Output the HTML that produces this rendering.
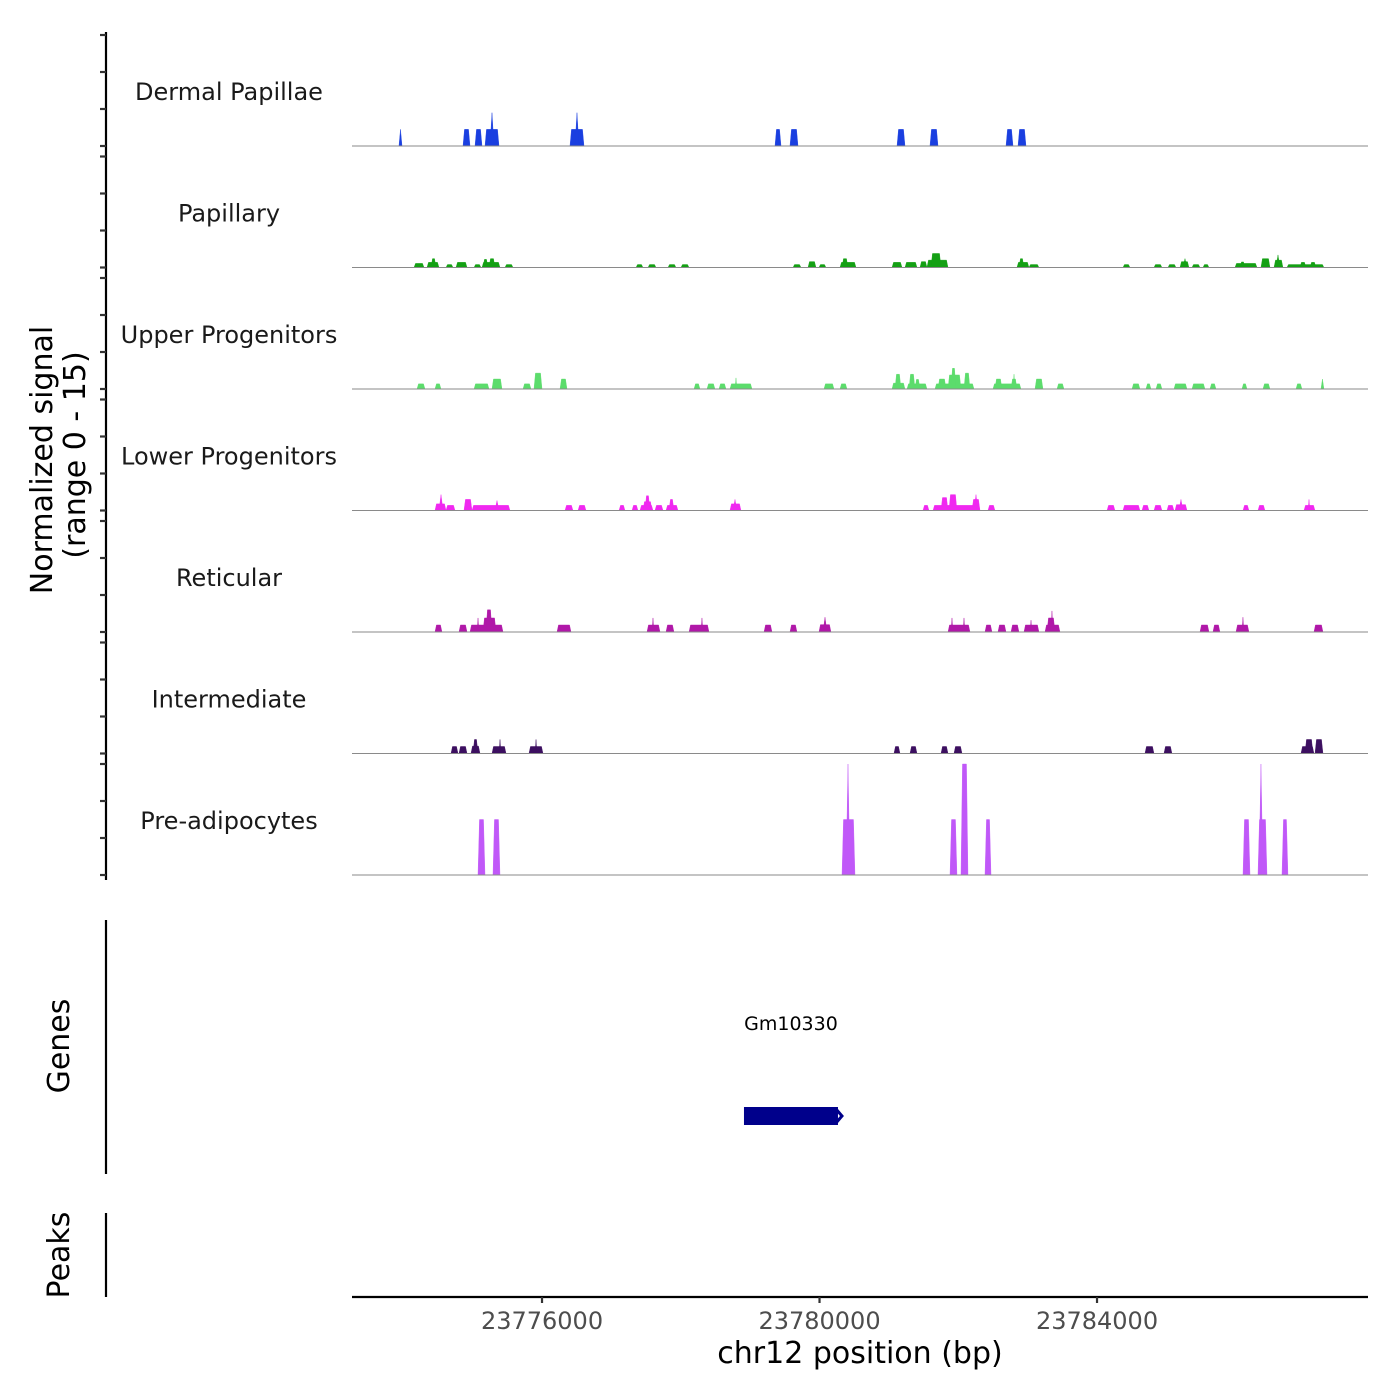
<!DOCTYPE html>
<html><head><meta charset="utf-8"><style>
html,body{margin:0;padding:0;background:#fff;}
svg{display:block;font-family:"DejaVu Sans","Liberation Sans",sans-serif;}
</style></head><body>
<svg id="chart" width="1400" height="1400" viewBox="0 0 1400 1400">
<g id="tracks"></g>
<g id="leftaxis"></g>
<text x="52" y="460" font-size="30" fill="#000" text-anchor="middle" transform="rotate(-90 52 460)">Normalized signal</text>
<text x="85" y="455" font-size="30" fill="#000" text-anchor="middle" transform="rotate(-90 85 455)">(range 0 - 15)</text>
<line x1="106" y1="920" x2="106" y2="1174" stroke="#000" stroke-width="2.2"/>
<text x="69" y="1046" font-size="30" fill="#000" text-anchor="middle" transform="rotate(-90 69 1046)">Genes</text>
<line x1="106" y1="1213" x2="106" y2="1297" stroke="#000" stroke-width="2.2"/>
<text x="69" y="1255" font-size="30" fill="#000" text-anchor="middle" transform="rotate(-90 69 1255)">Peaks</text>
<g id="genes"></g>
<g id="xaxis"></g>
<text x="860" y="1363" font-size="30" fill="#000" text-anchor="middle">chr12 position (bp)</text>
</svg>
<script>
// ---- data ----
const regionStart = 23773261;
const regionEnd = 23787906;
const trackNames = ["Dermal Papillae","Papillary","Upper Progenitors","Lower Progenitors","Reticular","Intermediate","Pre-adipocytes"];
const trackColors = ["#1a3fe0","#14a014","#5cdc6c","#f028f0","#b018a8","#3c0f60","#c058f8"];
const yTicks = [0,5,10,15];
const xTicks = [23776000,23780000,23784000];
const xTickLabels = ["23776000","23780000","23784000"];
// segments: [startOffsetBp, endOffsetBp, value] relative to regionStart
const dermalPapillae = [[677,721,2.25],[1600,1701,2.25],[1773,1874,2.25],[1917,2119,2.25],[1989,2047,4.5],[3142,3344,2.25],[3214,3272,4.5],[6097,6184,2.25],[6313,6429,2.25],[7856,7971,2.25],[8331,8447,2.25],[9427,9528,2.25],[9600,9715,2.25]];
const papillary = [[894,1038,0.55],[1081,1254,0.7],[1139,1211,1.2],[1355,1456,0.4],[1499,1658,0.7],[1759,1859,0.4],[1874,2133,0.7],[1888,1960,1.1],[1975,2061,1.2],[2205,2321,0.4],[4094,4194,0.4],[4267,4382,0.4],[4555,4670,0.4],[4742,4858,0.4],[6357,6472,0.4],[6573,6688,0.8],[6731,6832,0.4],[7034,7265,0.7],[7063,7149,1.2],[7784,7928,0.7],[7971,8144,0.7],[8187,8288,0.8],[8288,8591,1.0],[8346,8490,1.9],[9585,9758,0.7],[9614,9686,1.2],[9758,9902,0.4],[11113,11214,0.4],[11560,11675,0.4],[11762,11877,0.4],[11935,12064,0.8],[11978,12036,1.2],[12108,12223,0.4],[12266,12353,0.4],[12728,13045,0.55],[12800,12872,0.75],[13102,13232,1.2],[13290,13419,1.0],[13319,13376,1.7],[13477,14010,0.4],[13664,13751,0.7],[13809,13895,0.7]];
const upperProgenitors = [[937,1052,0.7],[1196,1283,0.7],[1759,1975,0.7],[2018,2162,1.35],[2465,2580,0.7],[2623,2739,2.15],[2998,3099,1.35],[4930,5016,0.7],[5117,5232,0.7],[5290,5391,0.7],[5448,5766,0.7],[5521,5549,1.5],[6803,6948,0.7],[7034,7135,0.7],[7784,7971,0.8],[7827,7913,2.0],[8000,8288,0.7],[8029,8115,2.0],[8115,8187,1.3],[8403,8966,0.7],[8447,8562,1.35],[8591,8778,1.9],[8634,8706,2.8],[8821,8908,2.15],[9239,9643,0.7],[9268,9369,1.35],[9499,9585,1.35],[9528,9557,2.0],[9845,9960,1.35],[10162,10263,0.7],[11243,11358,0.7],[11444,11517,0.7],[11589,11675,0.7],[11848,12036,0.7],[12108,12295,0.7],[12367,12454,0.7],[12828,12901,0.7],[13131,13232,0.7],[13607,13693,0.7],[13967,14010,1.35]];
const lowerProgenitors = [[1196,1355,0.9],[1254,1312,2.15],[1355,1485,0.7],[1614,1730,1.5],[1730,2277,0.7],[2061,2119,1.35],[3070,3185,0.7],[3258,3373,0.7],[3849,3935,0.7],[4036,4122,0.7],[4151,4339,0.7],[4194,4324,1.2],[4223,4295,2.0],[4367,4483,0.7],[4526,4699,0.7],[4569,4641,1.5],[5448,5607,0.9],[5492,5549,1.5],[8230,8317,0.7],[8375,9052,0.7],[8490,8591,1.75],[8605,8720,2.15],[8937,9052,1.5],[8966,9023,2.15],[9167,9268,0.7],[10883,10998,0.7],[11113,11358,0.7],[11387,11488,0.7],[11560,11675,0.7],[11747,11848,0.7],[11863,12036,0.8],[11920,11978,1.5],[12843,12929,0.7],[13059,13160,0.7],[13722,13881,0.7],[13780,13809,1.5]];
const reticular = [[1196,1297,0.95],[1542,1658,0.95],[1701,2177,0.95],[1888,2076,1.9],[1931,2018,3.0],[1802,1831,1.9],[2955,3157,0.95],[4252,4440,0.95],[4324,4353,1.9],[4526,4641,0.95],[4858,5146,0.95],[5030,5059,1.9],[5939,6054,0.95],[6313,6414,0.95],[6731,6904,1.0],[6789,6847,2.0],[8591,8908,0.95],[8634,8663,1.9],[8807,8836,1.9],[9124,9225,0.95],[9311,9427,0.95],[9499,9614,0.95],[9686,9902,0.95],[9773,9802,1.6],[9989,10205,0.95],[10018,10133,1.9],[10075,10104,2.85],[12223,12353,0.95],[12410,12511,0.95],[12742,12929,0.95],[12828,12857,2.0],[13866,13996,0.95]];
const intermediate = [[1427,1528,0.95],[1542,1658,0.95],[1715,1845,1.0],[1744,1816,1.9],[2018,2220,0.95],[2119,2148,1.9],[2551,2753,0.95],[2638,2667,1.9],[7812,7899,0.95],[8043,8144,0.95],[8490,8591,0.95],[8677,8793,0.95],[11430,11560,0.95],[11704,11819,0.95],[13679,13866,0.95],[13737,13852,1.9],[13881,13996,1.9]];
const preAdipocytes = [[1816,1917,7.5],[2032,2133,7.5],[7063,7250,7.5],[7121,7178,15],[8620,8720,7.5],[8778,8879,15],[9124,9211,7.5],[12843,12944,7.5],[13059,13189,7.5],[13073,13131,15],[13405,13491,7.5]];
const trackData = [dermalPapillae,papillary,upperProgenitors,lowerProgenitors,reticular,intermediate,preAdipocytes];
const geneNames = ["Gm10330"];
const geneStarts = [23778911];
const geneEnds = [23780266];

// ---- layout ----
const NS = "http://www.w3.org/2000/svg";
const plotLeft = 352, plotRight = 1368;
const firstBase = 146, trackStep = 121.5, trackHeight = 111, yMax = 15;
function xScale(bp){ return plotLeft + (bp - regionStart) / (regionEnd - regionStart) * (plotRight - plotLeft); }
function yScale(v, base){ return base - v / yMax * trackHeight; }
function mk(tag, attrs, parent){ const e = document.createElementNS(NS, tag); for (const k in attrs) e.setAttribute(k, attrs[k]); parent.appendChild(e); return e; }

const tracksG = document.getElementById('tracks');
const axisG = document.getElementById('leftaxis');
const axisLine = mk('line', {x1:106, y1:32, x2:106, y2:880, stroke:'#000', 'stroke-width':2.2}, axisG);



trackNames.forEach((name, i) => {
  const base = firstBase + i * trackStep;
  const g = mk('g', {}, tracksG);
  
  
  const lbl = mk('text', {x:229, y:base - 46, 'font-size':24, fill:'#1a1a1a', 'text-anchor':'middle'}, g);
  lbl.textContent = name;
  
  
  trackData[i].forEach(seg => {
    const x0 = xScale(regionStart + seg[0]), x1 = xScale(regionStart + seg[1]);
    const w = x1 - x0;
    const r = w <= 4.5 ? w / 2 : 1.5;
    const yT = yScale(seg[2], base);
    const p = mk('polygon', {points: `${x0},${base} ${x0 + r},${yT} ${x1 - r},${yT} ${x1},${base}`, fill: trackColors[i], stroke: trackColors[i], 'stroke-width': 0.4}, g);
    
    
  });
  const bl = mk('line', {x1:plotLeft, y1:base, x2:plotRight, y2:base, stroke:'#8a8a8a', 'stroke-width':1.1}, g);
  
  
  yTicks.forEach(t => {
    const y = yScale(t, base);
    const tk = mk('line', {x1:100, y1:y, x2:106, y2:y, stroke:'#333', 'stroke-width':2.2}, axisG);
    
    
  });
});

// genes
const genesG = document.getElementById('genes');
geneNames.forEach((gname, i) => {
  const x0 = xScale(geneStarts[i]), x1 = xScale(geneEnds[i]);
  const r = mk('rect', {x:x0, y:1107, width:x1 - x0, height:18, fill:'#00008b'}, genesG);
  
  
  const ch = mk('path', {d:`M${x1-2},1109 L${x1+4},1116 L${x1-2},1123`, fill:'none', stroke:'#00008b', 'stroke-width':3}, genesG);
  
  
  const t = mk('text', {x:(x0 + x1) / 2, y:1030, 'font-size':19, fill:'#000', 'text-anchor':'middle'}, genesG);
  t.textContent = gname;
  
  
});

// x axis
const xG = document.getElementById('xaxis');
const xl = mk('line', {x1:plotLeft, y1:1297, x2:plotRight, y2:1297, stroke:'#000', 'stroke-width':2.2}, xG);


xTicks.forEach((t, i) => {
  const x = xScale(t);
  const tk = mk('line', {x1:x, y1:1297, x2:x, y2:1303, stroke:'#333', 'stroke-width':2.2}, xG);
  
  
  const lb = mk('text', {x:x, y:1329, 'font-size':24, fill:'#4d4d4d', 'text-anchor':'middle'}, xG);
  lb.textContent = xTickLabels[i];
  
  
});
</script>
</body></html>
